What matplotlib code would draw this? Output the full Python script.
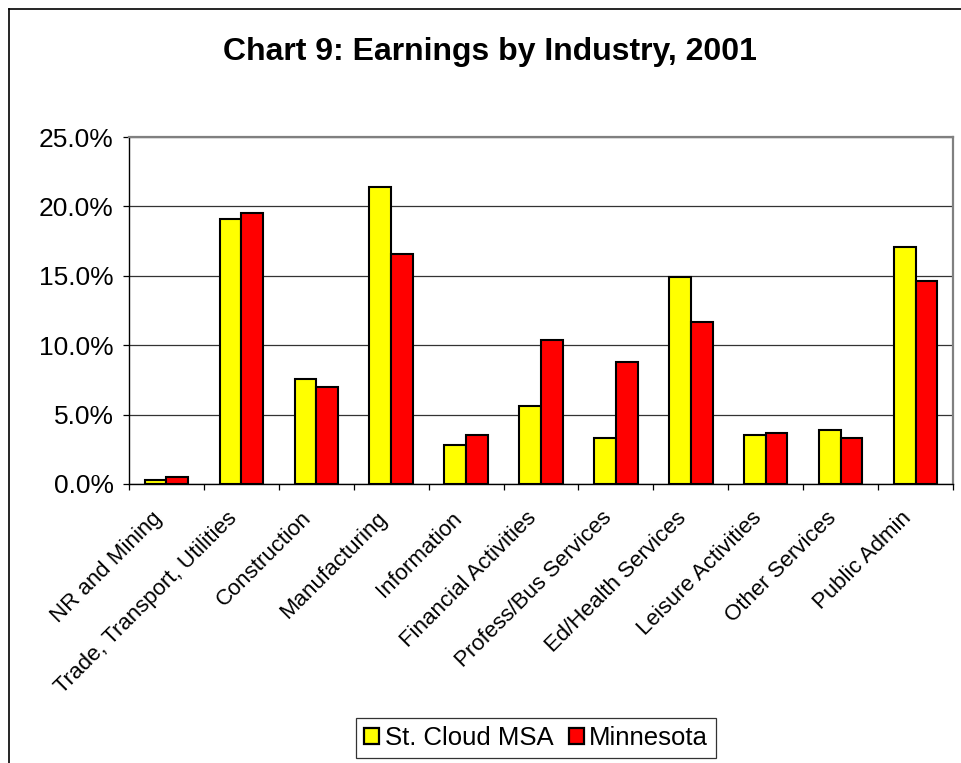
import matplotlib
matplotlib.use("Agg")
import matplotlib.pyplot as plt
from matplotlib.lines import Line2D
from matplotlib.patches import Patch
from matplotlib.ticker import FuncFormatter, FixedLocator
from matplotlib.transforms import ScaledTranslation
import numpy as np

plt.rcParams["font.family"] = ["Liberation Sans", "DejaVu Sans"]

# Share of total earnings by industry, 2001 (percent)
industries = [
    "NR and Mining",
    "Trade, Transport, Utilities",
    "Construction",
    "Manufacturing",
    "Information",
    "Financial Activities",
    "Profess/Bus Services",
    "Ed/Health Services",
    "Leisure Activities",
    "Other Services",
    "Public Admin",
]
st_cloud = [0.3, 19.1, 7.6, 21.4, 2.8, 5.6, 3.3, 14.9, 3.5, 3.9, 17.1]
minnesota = [0.5, 19.5, 7.0, 16.6, 3.5, 10.4, 8.8, 11.7, 3.7, 3.3, 14.6]
y_ticks = [0, 5, 10, 15, 20, 25]

fig = plt.figure(figsize=(9.61, 7.63), dpi=100)
ax = fig.add_axes([0.1342, 0.3657, 0.8575, 0.4547])

x = np.arange(len(industries))
w = 0.29
ax.bar(x - w / 2, st_cloud, w, color="#FFFF00", edgecolor="black",
       linewidth=1.5, zorder=3)
ax.bar(x + w / 2, minnesota, w, color="#FF0000", edgecolor="black",
       linewidth=1.5, zorder=3)

ax.set_xlim(-0.5, len(industries) - 0.5)
ax.set_ylim(0, 25)

# gridlines
ax.set_yticks(y_ticks)
ax.yaxis.set_major_formatter(FuncFormatter(lambda v, _: f"{v:.1f}%"))
ax.grid(axis="y", color="#333333", linewidth=0.9, zorder=0)
ax.tick_params(axis="y", direction="out", length=4.5, width=0.9,
               labelsize=19, pad=6.5)

# category labels at centres, tick marks at the boundaries
ax.set_xticks(x)
ax.set_xticklabels(industries, rotation=45, ha="right", va="top",
                   rotation_mode="anchor", fontsize=16)
ax.tick_params(axis="x", which="major", length=0, pad=17)
shift = ScaledTranslation(-15 / 100, 0, fig.dpi_scale_trans)
for lbl in ax.get_xticklabels():
    lbl.set_transform(lbl.get_transform() + shift)
ax.xaxis.set_minor_locator(FixedLocator(np.arange(-0.5, len(industries), 1.0)))
ax.tick_params(axis="x", which="minor", direction="out", length=4, width=0.9)

for side in ("left", "bottom"):
    ax.spines[side].set_color("black")
    ax.spines[side].set_linewidth(1.0)
for side in ("top", "right"):
    ax.spines[side].set_color("#808080")
    ax.spines[side].set_linewidth(1.6)

fig.text(0.51, 0.9318, "Chart 9: Earnings by Industry, 2001",
         ha="center", va="center", fontsize=23, fontweight="bold")

handles = [
    Patch(facecolor="#FFFF00", edgecolor="black", linewidth=1.6, label="St. Cloud MSA"),
    Patch(facecolor="#FF0000", edgecolor="black", linewidth=1.6, label="Minnesota"),
]
leg = fig.legend(handles=handles, loc="center", bbox_to_anchor=(0.5578, 0.0328),
                 ncol=2, fontsize=18.5, frameon=True, fancybox=False,
                 handlelength=0.6, handleheight=0.6, handletextpad=0.2,
                 columnspacing=0.6, borderpad=0.3, borderaxespad=0)
leg.get_frame().set_edgecolor("black")
leg.get_frame().set_linewidth(0.9)

# outer chart frame
fig.add_artist(Line2D([9 / 961, 1], [1 - 9 / 763, 1 - 9 / 763],
                      transform=fig.transFigure, color="black", linewidth=1.2))
fig.add_artist(Line2D([9 / 961, 9 / 961], [0, 1 - 9 / 763],
                      transform=fig.transFigure, color="black", linewidth=1.2))

fig.savefig("out.png", dpi=100)
